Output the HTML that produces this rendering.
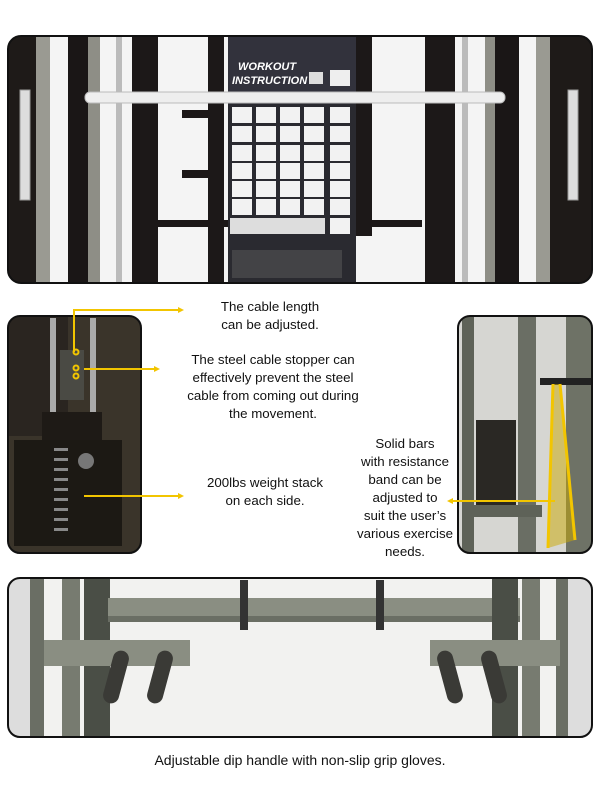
<!DOCTYPE html>
<html><head><meta charset="utf-8"><style>
html,body{margin:0;padding:0;background:#fff;}
body{width:600px;height:803px;overflow:hidden;position:relative;font-family:"Liberation Sans",sans-serif;}
.t{position:absolute;text-align:center;font-size:13.3px;line-height:18px;color:#111;white-space:nowrap;}
</style></head><body>
<svg width="600" height="803" style="position:absolute;left:0;top:0">
<defs>
<clipPath id="c1"><rect x="8" y="36" width="584" height="247" rx="13"/></clipPath>
<clipPath id="c2"><rect x="8" y="316" width="133" height="237" rx="12"/></clipPath>
<clipPath id="c3"><rect x="458" y="316" width="134" height="237" rx="12"/></clipPath>
<clipPath id="c4"><rect x="8" y="578" width="584" height="159" rx="12"/></clipPath>
</defs>
<!-- TOP -->
<g clip-path="url(#c1)">
<rect x="8" y="36" width="584" height="247" fill="#f4f4f4"/>
<rect x="8" y="36" width="40" height="247" fill="#1e1a18"/>
<rect x="36" y="36" width="14" height="247" fill="#9a9a92"/>
<rect x="68" y="36" width="24" height="247" fill="#1a1616"/>
<rect x="88" y="36" width="12" height="247" fill="#8e8e86"/>
<rect x="116" y="36" width="6" height="247" fill="#bbb"/>
<rect x="132" y="36" width="26" height="247" fill="#1c1818"/>
<rect x="182" y="110" width="30" height="8" fill="#1c1818"/>
<rect x="182" y="170" width="30" height="8" fill="#1c1818"/>
<rect x="150" y="220" width="78" height="7" fill="#1c1818"/>
<rect x="208" y="36" width="16" height="247" fill="#1c1818"/>
<rect x="228" y="37" width="128" height="246" fill="#2a2a30"/>
<rect x="356" y="36" width="16" height="200" fill="#1c1818"/>
<rect x="372" y="220" width="50" height="7" fill="#1c1818"/>
<rect x="425" y="36" width="30" height="247" fill="#1c1818"/>
<rect x="462" y="36" width="6" height="247" fill="#bbb"/>
<rect x="485" y="36" width="14" height="247" fill="#8e8e86"/>
<rect x="495" y="36" width="24" height="247" fill="#1a1616"/>
<rect x="536" y="36" width="16" height="247" fill="#9a9a92"/>
<rect x="550" y="36" width="42" height="247" fill="#1e1a18"/>
<rect x="228" y="37" width="128" height="60" fill="#32323c"/>
<text x="238" y="70" font-family="Liberation Sans" font-weight="bold" font-style="italic" font-size="11" fill="#fff">WORKOUT</text>
<text x="232" y="84" font-family="Liberation Sans" font-weight="bold" font-style="italic" font-size="11" fill="#fff">INSTRUCTION</text>
<rect x="309" y="72" width="14" height="12" fill="#ddd"/>
<rect x="330" y="70" width="20" height="16" fill="#eee"/>
<g fill="#f2f2f2">
<rect x="232" y="107" width="20" height="16"/><rect x="256" y="107" width="20" height="16"/><rect x="280" y="107" width="20" height="16"/><rect x="304" y="107" width="20" height="16"/><rect x="330" y="107" width="20" height="16"/>
<rect x="232" y="126" width="20" height="16"/><rect x="256" y="126" width="20" height="16"/><rect x="280" y="126" width="20" height="16"/><rect x="304" y="126" width="20" height="16"/><rect x="330" y="126" width="20" height="16"/>
<rect x="232" y="145" width="20" height="16"/><rect x="256" y="145" width="20" height="16"/><rect x="280" y="145" width="20" height="16"/><rect x="304" y="145" width="20" height="16"/><rect x="330" y="145" width="20" height="16"/>
<rect x="232" y="163" width="20" height="16"/><rect x="256" y="163" width="20" height="16"/><rect x="280" y="163" width="20" height="16"/><rect x="304" y="163" width="20" height="16"/><rect x="330" y="163" width="20" height="16"/>
<rect x="232" y="181" width="20" height="16"/><rect x="256" y="181" width="20" height="16"/><rect x="280" y="181" width="20" height="16"/><rect x="304" y="181" width="20" height="16"/><rect x="330" y="181" width="20" height="16"/>
<rect x="232" y="199" width="20" height="16"/><rect x="256" y="199" width="20" height="16"/><rect x="280" y="199" width="20" height="16"/><rect x="304" y="199" width="20" height="16"/><rect x="330" y="199" width="20" height="16"/>
<rect x="330" y="218" width="20" height="16"/>
</g>
<rect x="230" y="218" width="95" height="16" fill="#ddd"/>
<rect x="232" y="250" width="110" height="28" fill="#555" opacity=".6"/>
<rect x="85" y="92" width="420" height="11" rx="5" fill="#eee" stroke="#bbb"/>
<rect x="20" y="90" width="10" height="110" fill="#ddd" stroke="#999"/>
<rect x="568" y="90" width="10" height="110" fill="#ddd" stroke="#999"/>
</g>
<rect x="8" y="36" width="584" height="247" rx="13" fill="none" stroke="#111" stroke-width="2"/>
<!-- MID LEFT -->
<g clip-path="url(#c2)">
<rect x="8" y="316" width="133" height="237" fill="#3a342a"/>
<rect x="8" y="316" width="60" height="120" fill="#2a2520"/>
<rect x="50" y="318" width="6" height="110" fill="#aaa"/>
<rect x="90" y="318" width="6" height="110" fill="#aaa"/>
<rect x="60" y="350" width="24" height="50" fill="#4a4a44"/>
<rect x="42" y="412" width="60" height="30" fill="#1e1a16"/>
<rect x="14" y="440" width="108" height="106" fill="#1c1914"/>
<g fill="#888"><rect x="54" y="448" width="14" height="3"/><rect x="54" y="458" width="14" height="3"/><rect x="54" y="468" width="14" height="3"/><rect x="54" y="478" width="14" height="3"/><rect x="54" y="488" width="14" height="3"/><rect x="54" y="498" width="14" height="3"/><rect x="54" y="508" width="14" height="3"/><rect x="54" y="518" width="14" height="3"/><rect x="54" y="528" width="14" height="3"/></g>
<circle cx="86" cy="461" r="8" fill="#777"/>
</g>
<rect x="8" y="316" width="133" height="237" rx="12" fill="none" stroke="#111" stroke-width="2"/>
<!-- MID RIGHT -->
<g clip-path="url(#c3)">
<rect x="458" y="316" width="134" height="237" fill="#d6d6d2"/>
<rect x="462" y="316" width="12" height="237" fill="#5e6258"/>
<rect x="518" y="316" width="18" height="237" fill="#6a6e64"/>
<rect x="566" y="316" width="26" height="237" fill="#6e7266"/>
<rect x="476" y="420" width="40" height="90" fill="#2a2824"/>
<rect x="540" y="378" width="52" height="7" fill="#222"/>
<rect x="462" y="505" width="80" height="12" fill="#5e6258"/>
<polygon points="552,384 560,384 575,540 548,548" fill="#c9a800" opacity=".5"/>
<line x1="553" y1="384" x2="548" y2="548" stroke="#f2c500" stroke-width="3"/>
<line x1="560" y1="384" x2="575" y2="540" stroke="#f2c500" stroke-width="3"/>
</g>
<rect x="458" y="316" width="134" height="237" rx="12" fill="none" stroke="#111" stroke-width="2"/>
<!-- connectors -->
<g stroke="#f2c500" stroke-width="2" fill="none">
<polyline points="74,352 74,310 180,310"/>
<line x1="84" y1="369" x2="156" y2="369"/>
<line x1="84" y1="496" x2="180" y2="496"/>
<line x1="555" y1="501" x2="452" y2="501"/>
<circle cx="76" cy="352" r="2.5"/><circle cx="76" cy="368" r="2.5"/><circle cx="76" cy="376" r="2.5"/>
</g>
<g fill="#f2c500"><polygon points="184,310 178,307 178,313"/><polygon points="160,369 154,366 154,372"/><polygon points="184,496 178,493 178,499"/><polygon points="447,501 453,498 453,504"/></g>
<!-- BOTTOM -->
<g clip-path="url(#c4)">
<rect x="8" y="578" width="584" height="159" fill="#f2f2f0"/>
<rect x="8" y="578" width="30" height="159" fill="#ddd"/>
<rect x="30" y="578" width="14" height="159" fill="#6a6e64"/>
<rect x="62" y="578" width="18" height="159" fill="#777b70"/>
<rect x="84" y="578" width="26" height="159" fill="#4a4e46"/>
<rect x="108" y="598" width="412" height="22" fill="#8a8e82"/>
<rect x="108" y="616" width="412" height="6" fill="#6a6e64"/>
<rect x="492" y="578" width="26" height="159" fill="#4a4e46"/>
<rect x="522" y="578" width="18" height="159" fill="#777b70"/>
<rect x="556" y="578" width="14" height="159" fill="#6a6e64"/>
<rect x="568" y="578" width="24" height="159" fill="#ddd"/>
<rect x="44" y="640" width="146" height="26" fill="#8a8e82"/>
<rect x="430" y="640" width="130" height="26" fill="#8a8e82"/>
<rect x="108" y="650" width="16" height="54" rx="8" fill="#3a3a36" transform="rotate(15 116 677)"/>
<rect x="152" y="650" width="16" height="54" rx="8" fill="#3a3a36" transform="rotate(15 160 677)"/>
<rect x="442" y="650" width="16" height="54" rx="8" fill="#3a3a36" transform="rotate(-15 450 677)"/>
<rect x="486" y="650" width="16" height="54" rx="8" fill="#3a3a36" transform="rotate(-15 494 677)"/>
<rect x="240" y="580" width="8" height="50" fill="#333"/>
<rect x="376" y="580" width="8" height="50" fill="#333"/>
</g>
<rect x="8" y="578" width="584" height="159" rx="12" fill="none" stroke="#111" stroke-width="2"/>
</svg>
<div class="t" style="left:190px;top:298px;width:160px">The cable length<br>can be adjusted.</div>
<div class="t" style="left:168px;top:351px;width:210px">The steel cable stopper can<br>effectively prevent the steel<br>cable from coming out during<br>the movement.</div>
<div class="t" style="left:190px;top:474px;width:150px">200lbs weight stack<br>on each side.</div>
<div class="t" style="left:345px;top:435px;width:120px">Solid bars<br>with resistance<br>band can be<br>adjusted to<br>suit the user’s<br>various exercise<br>needs.</div>
<div class="t" style="left:100px;top:751px;width:400px;font-size:14px">Adjustable dip handle with non-slip grip gloves.</div>
</body></html>
